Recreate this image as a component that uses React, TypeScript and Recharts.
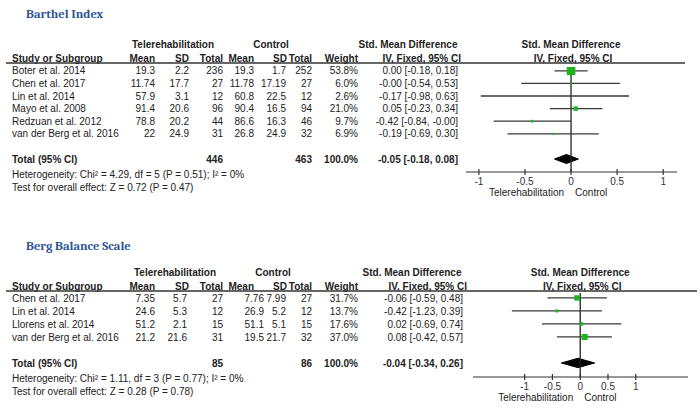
import React from 'react';
import { ComposedChart, XAxis, YAxis, Scatter, Area, ReferenceLine } from 'recharts';

// Barthel Index
const barthelStudies = ['Boter et al. 2014', 'Chen et al. 2017', 'Lin et al. 2014', 'Mayo et al. 2008', 'Redzuan et al. 2012', 'van der Berg et al. 2016'];
const barthelTeleMean = ['19.3', '11.74', '57.9', '91.4', '78.8', '22'];
const barthelTeleSD = ['2.2', '17.7', '3.1', '20.6', '20.2', '24.9'];
const barthelTeleN = [236, 27, 12, 96, 44, 31];
const barthelCtrlMean = ['19.3', '11.78', '60.8', '90.4', '86.6', '26.8'];
const barthelCtrlSD = ['1.7', '17.19', '22.5', '16.5', '16.3', '24.9'];
const barthelCtrlN = [252, 27, 12, 94, 46, 32];
const barthelWeight = [53.8, 6.0, 2.6, 21.0, 9.7, 6.9];
const barthelSmd = ['0.00', '-0.00', '-0.17', '0.05', '-0.42', '-0.19'];
const barthelLo = ['-0.18', '-0.54', '-0.98', '-0.23', '-0.84', '-0.69'];
const barthelHi = ['0.18', '0.53', '0.63', '0.34', '-0.00', '0.30'];
const barthelTotal = { tele: 446, ctrl: 463, smd: '-0.05', lo: '-0.18', hi: '0.08' };
const barthelHet = 'Heterogeneity: Chi² = 4.29, df = 5 (P = 0.51); I² = 0%';
const barthelTest = 'Test for overall effect: Z = 0.72 (P = 0.47)';

// Berg Balance Scale
const bergStudies = ['Chen et al. 2017', 'Lin et al. 2014', 'Llorens et al. 2014', 'van der Berg et al. 2016'];
const bergTeleMean = ['7.35', '24.6', '51.2', '21.2'];
const bergTeleSD = ['5.7', '5.3', '2.1', '21.6'];
const bergTeleN = [27, 12, 15, 31];
const bergCtrlMean = ['7.76', '26.9', '51.1', '19.5'];
const bergCtrlSD = ['7.99', '5.2', '5.1', '21.7'];
const bergCtrlN = [27, 12, 15, 32];
const bergWeight = [31.7, 13.7, 17.6, 37.0];
const bergSmd = ['-0.06', '-0.42', '0.02', '0.08'];
const bergLo = ['-0.59', '-1.23', '-0.69', '-0.42'];
const bergHi = ['0.48', '0.39', '0.74', '0.57'];
const bergTotal = { tele: 85, ctrl: 86, smd: '-0.04', lo: '-0.34', hi: '0.26' };
const bergHet = 'Heterogeneity: Chi² = 1.11, df = 3 (P = 0.77); I² = 0%';
const bergTest = 'Test for overall effect: Z = 0.28 (P = 0.78)';

const axisTicks = [-1, -0.5, 0, 0.5, 1];

const FONT = "'Liberation Sans', Arial, Helvetica, sans-serif";
const TXT = '#222';
const GREEN = '#1db51d';

const AxisTick = (props: any) => {
  const { x, y, payload } = props;
  const axisY = y - 5; // tickSize 4 + tickMargin 1
  return (
    <g>
      <line x1={x} x2={x} y1={axisY - 3} y2={axisY + 3} stroke="#333" strokeWidth={1.2} />
      <text x={x} y={axisY + 12.5} textAnchor="middle" fontSize={10} fontFamily={FONT} fill="#333">
        {payload.value}
      </text>
    </g>
  );
};

const makeBox = (k: number) => (props: any) => {
  const { cx, cy, payload } = props;
  const s = Math.max(2, k * Math.pow(payload.w, 0.7));
  return <rect x={cx - s / 2} y={cy - s / 2} width={s} height={s} fill={GREEN} />;
};

type Layout = {
  titleY: number;
  head1Y: number;
  head2Y: number;
  ruleY: number;
  ruleRight: number;
  plotTop: number;
  plotBottom: number;
  plotLeft: number;
  plotRight: number;
  xDomain: [number, number];
  yDomain: [number, number];
  ctrlMeanR: number;
  ctrlSDR: number;
  teleSDR: number;
  smdR: number;
  ivR: number;
  smdHeadC: number;
  teleC: number;
  ctrlC: number;
  boxK: number;
};

type PanelData = {
  title: string;
  studies: string[];
  teleMean: string[];
  teleSD: string[];
  teleN: number[];
  ctrlMean: string[];
  ctrlSD: string[];
  ctrlN: number[];
  weight: number[];
  smd: string[];
  lo: string[];
  hi: string[];
  total: { tele: number; ctrl: number; smd: string; lo: string; hi: string };
  het: string;
  test: string;
};

const rowY = (L: Layout, i: number) =>
  L.plotTop + ((i - L.yDomain[0]) / (L.yDomain[1] - L.yDomain[0])) * (L.plotBottom - L.plotTop);

const zeroX = (L: Layout) =>
  L.plotLeft + ((0 - L.xDomain[0]) / (L.xDomain[1] - L.xDomain[0])) * (L.plotRight - L.plotLeft);

function PanelPlot({ d, L }: { d: PanelData; L: Layout }) {
  const n = d.studies.length;
  const points = d.studies.map((s, i) => ({ x: parseFloat(d.smd[i]), y: i, w: d.weight[i] }));
  const tr = n + 1;
  const dh = 0.36;
  const diamond = [
    { x: parseFloat(d.total.lo), band: [tr, tr] },
    { x: parseFloat(d.total.smd), band: [tr - dh, tr + dh] },
    { x: parseFloat(d.total.hi), band: [tr, tr] },
  ];
  return (
    <div style={{ position: 'absolute', left: 0, top: 0 }}>
      <ComposedChart
        width={700}
        height={417}
        margin={{ top: L.plotTop, bottom: 417 - L.plotBottom - 20, left: L.plotLeft, right: 700 - L.plotRight }}
      >
        <XAxis
          type="number"
          dataKey="x"
          domain={L.xDomain}
          allowDataOverflow
          ticks={axisTicks}
          interval={0}
          height={20}
          tickSize={4}
          tickMargin={1}
          tickLine={false}
          axisLine={{ stroke: '#333', strokeWidth: 1.2 }}
          tick={<AxisTick />}
        />
        <YAxis type="number" dataKey="y" domain={L.yDomain} allowDataOverflow reversed hide width={0} />
        <ReferenceLine x={0} stroke="#222" strokeWidth={1.3} />
        {d.studies.map((s, i) => (
          <ReferenceLine
            key={s}
            segment={[
              { x: parseFloat(d.lo[i]), y: i },
              { x: parseFloat(d.hi[i]), y: i },
            ]}
            stroke="#3a3a3a"
            strokeWidth={1.3}
          />
        ))}
        <Scatter data={points} shape={makeBox(L.boxK)} isAnimationActive={false} />
        <Area
          data={diamond}
          dataKey="band"
          type="linear"
          fill="#000"
          fillOpacity={1}
          stroke="#000"
          isAnimationActive={false}
        />
      </ComposedChart>
    </div>
  );
}

function PanelText({ d, L }: { d: PanelData; L: Layout }) {
  const n = d.studies.length;
  const z = zeroX(L);
  const totalY = rowY(L, n + 1);
  const b = 3.6;
  const T = (x: number, y: number, s: string | number, anchor: 'start' | 'middle' | 'end', bold = false) => (
    <text x={x} y={y + b} textAnchor={anchor} fontWeight={bold ? 'bold' : 'normal'}>
      {s}
    </text>
  );
  return (
    <g fontFamily={FONT} fontSize={10} fill={TXT}>
      <text
        x={26}
        y={L.titleY + 4.5}
        fontFamily="Cambria, 'Liberation Serif', serif"
        fontWeight="bold"
        fontSize={12.5}
        fill="#2e5597"
      >
        {d.title}
      </text>
      {T(L.teleC, L.head1Y, 'Telerehabilitation', 'middle', true)}
      {T(L.ctrlC, L.head1Y, 'Control', 'middle', true)}
      {T(L.smdHeadC, L.head1Y, 'Std. Mean Difference', 'middle', true)}
      {T(z, L.head1Y, 'Std. Mean Difference', 'middle', true)}
      {T(12, L.head2Y, 'Study or Subgroup', 'start', true)}
      {T(155, L.head2Y, 'Mean', 'end', true)}
      {T(189, L.head2Y, 'SD', 'end', true)}
      {T(223, L.head2Y, 'Total', 'end', true)}
      {T(254, L.head2Y, 'Mean', 'end', true)}
      {T(287, L.head2Y, 'SD', 'end', true)}
      {T(312, L.head2Y, 'Total', 'end', true)}
      {T(358, L.head2Y, 'Weight', 'end', true)}
      {T(L.ivR, L.head2Y, 'IV, Fixed, 95% CI', 'end', true)}
      {T(z + 2, L.head2Y, 'IV, Fixed, 95% CI', 'middle', true)}
      <line x1={6} x2={L.ruleRight} y1={L.ruleY} y2={L.ruleY} stroke="#333" strokeWidth={1.3} />
      {d.studies.map((s, i) => {
        const y = rowY(L, i);
        return (
          <g key={s}>
            {T(12, y, s, 'start')}
            {T(155, y, d.teleMean[i], 'end')}
            {T(L.teleSDR, y, d.teleSD[i], 'end')}
            {T(223, y, d.teleN[i], 'end')}
            {T(L.ctrlMeanR, y, d.ctrlMean[i], 'end')}
            {T(L.ctrlSDR, y, d.ctrlSD[i], 'end')}
            {T(312, y, d.ctrlN[i], 'end')}
            {T(358, y, d.weight[i].toFixed(1) + '%', 'end')}
            {T(L.smdR, y, `${d.smd[i]} [${d.lo[i]}, ${d.hi[i]}]`, 'end')}
          </g>
        );
      })}
      {T(12, totalY, 'Total (95% CI)', 'start', true)}
      {T(223, totalY, d.total.tele, 'end', true)}
      {T(312, totalY, d.total.ctrl, 'end', true)}
      {T(358, totalY, '100.0%', 'end', true)}
      {T(L.smdR, totalY, `${d.total.smd} [${d.total.lo}, ${d.total.hi}]`, 'end', true)}
      {T(12, totalY + 15, d.het, 'start')}
      {T(12, totalY + 28, d.test, 'start')}
      {T(z - 7, L.plotBottom + 20, 'Telerehabilitation', 'end')}
      {T(z + 4, L.plotBottom + 20, 'Control', 'start')}
    </g>
  );
}

const barthel: PanelData = {
  title: 'Barthel Index',
  studies: barthelStudies,
  teleMean: barthelTeleMean,
  teleSD: barthelTeleSD,
  teleN: barthelTeleN,
  ctrlMean: barthelCtrlMean,
  ctrlSD: barthelCtrlSD,
  ctrlN: barthelCtrlN,
  weight: barthelWeight,
  smd: barthelSmd,
  lo: barthelLo,
  hi: barthelHi,
  total: barthelTotal,
  het: barthelHet,
  test: barthelTest,
};

const berg: PanelData = {
  title: 'Berg Balance Scale',
  studies: bergStudies,
  teleMean: bergTeleMean,
  teleSD: bergTeleSD,
  teleN: bergTeleN,
  ctrlMean: bergCtrlMean,
  ctrlSD: bergCtrlSD,
  ctrlN: bergCtrlN,
  weight: bergWeight,
  smd: bergSmd,
  lo: bergLo,
  hi: bergHi,
  total: bergTotal,
  het: bergHet,
  test: bergTest,
};

const topLayout: Layout = {
  titleY: 13,
  head1Y: 44.5,
  head2Y: 58,
  ruleY: 63,
  ruleRight: 685,
  plotTop: 67,
  plotBottom: 172,
  plotLeft: 466,
  plotRight: 677,
  xDomain: [-1.14, 1.15],
  yDomain: [-0.3, 8.03],
  ctrlMeanR: 254,
  ctrlSDR: 286,
  teleSDR: 189,
  smdR: 458,
  ivR: 461,
  smdHeadC: 408,
  teleC: 173,
  ctrlC: 271,
  boxK: 0.53,
};

const bottomLayout: Layout = {
  titleY: 245,
  head1Y: 272,
  head2Y: 286,
  ruleY: 291,
  ruleRight: 697,
  plotTop: 293,
  plotBottom: 377,
  plotLeft: 473,
  plotRight: 688,
  xDomain: [-1.93, 1.94],
  yDomain: [-0.38, 6.08],
  ctrlMeanR: 264,
  ctrlSDR: 286,
  teleSDR: 187,
  smdR: 463,
  ivR: 467,
  smdHeadC: 412,
  teleC: 175,
  ctrlC: 273,
  boxK: 0.48,
};

export default function App() {
  return (
    <div style={{ position: 'absolute', left: 0, top: 0, width: 700, height: 417, background: '#fff', overflow: 'hidden' }}>
      <PanelPlot d={barthel} L={topLayout} />
      <PanelPlot d={berg} L={bottomLayout} />
      <svg width={700} height={417} style={{ position: 'absolute', left: 0, top: 0, pointerEvents: 'none' }}>
        <PanelText d={barthel} L={topLayout} />
        <PanelText d={berg} L={bottomLayout} />
      </svg>
    </div>
  );
}
